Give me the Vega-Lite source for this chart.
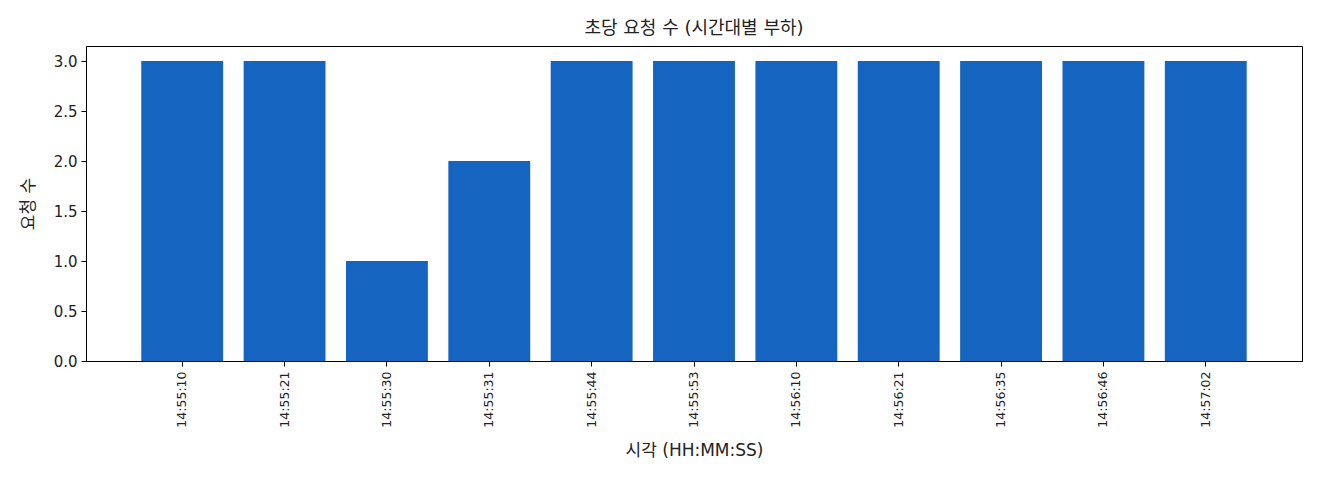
{
  "$schema": "https://vega.github.io/schema/vega-lite/v6.json",
  "autosize": "none",
  "width": 1216,
  "height": 315,
  "padding": {"left": 86, "top": 46, "right": 18, "bottom": 119},
  "background": "white",
  "config": {
    "font": "DejaVu Sans, Noto Sans CJK KR",
    "view": {"stroke": "black", "strokeWidth": 1},
    "axis": {"grid": false, "domainColor": "black", "tickColor": "black", "labelColor": "#222", "titleColor": "#222", "titleFontWeight": "normal"}
  },
  "title": {"text": "초당 요청 수 (시간대별 부하)", "fontSize": 18, "fontWeight": "normal", "offset": 8, "color": "#222"},
  "data": {
    "values": [
      {"time": "14:55:10", "count": 3},
      {"time": "14:55:21", "count": 3},
      {"time": "14:55:30", "count": 1},
      {"time": "14:55:31", "count": 2},
      {"time": "14:55:44", "count": 3},
      {"time": "14:55:53", "count": 3},
      {"time": "14:56:10", "count": 3},
      {"time": "14:56:21", "count": 3},
      {"time": "14:56:35", "count": 3},
      {"time": "14:56:46", "count": 3},
      {"time": "14:57:02", "count": 3}
    ]
  },
  "mark": {"type": "bar", "color": "#1565C0"},
  "encoding": {
    "x": {
      "field": "time",
      "type": "ordinal",
      "sort": null,
      "scale": {"paddingInner": 0.2, "paddingOuter": 0.54},
      "axis": {"title": "시각 (HH:MM:SS)", "titleFontSize": 17, "titlePadding": 15, "labelAngle": 270, "labelFontSize": 12.5, "labelPadding": 5, "tickSize": 5}
    },
    "y": {
      "field": "count",
      "type": "quantitative",
      "scale": {"domain": [0, 3.15], "nice": false},
      "axis": {"title": "요청 수", "titleFontSize": 17, "titlePadding": 16, "values": [0, 0.5, 1, 1.5, 2, 2.5, 3], "format": ".1f", "labelFontSize": 15, "tickSize": 5, "labelPadding": 4}
    }
  }
}
